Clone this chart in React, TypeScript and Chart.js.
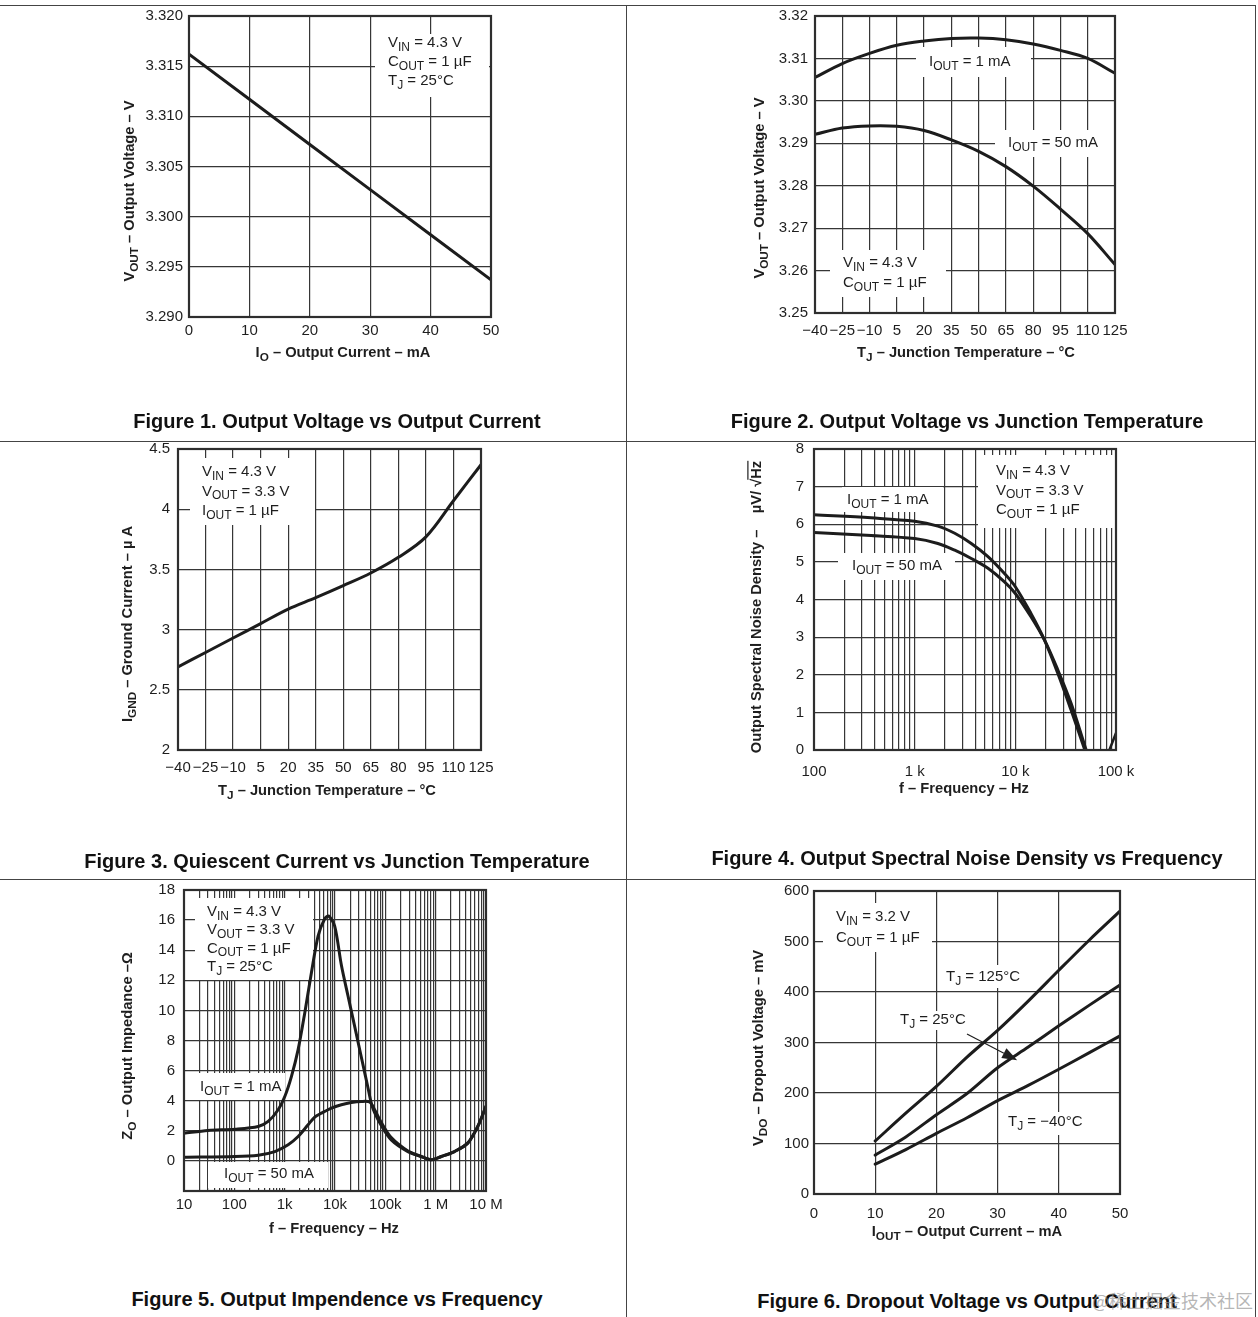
import React, { useEffect, useRef } from "react";
import { Chart, registerables } from "chart.js";

Chart.register(...registerables);

const FONT = '"Liberation Sans", Arial, Helvetica, sans-serif';
const INK = "#1e1e1e";
const GRID = "#363636";
const CURVE = "#1c1c1c";

// ---------------- Figure 1 ----------------
const FIG1_IOUT_MA = [0, 10, 20, 30, 40, 50];
const FIG1_VOUT_V = [3.3162, 3.3117, 3.3072, 3.3027, 3.2982, 3.2937];
const FIG1_X_TICKS = [0, 10, 20, 30, 40, 50];
const FIG1_X_LABELS = ["0", "10", "20", "30", "40", "50"];
const FIG1_Y_TICKS = [3.29, 3.295, 3.3, 3.305, 3.31, 3.315, 3.32];
const FIG1_Y_LABELS = ["3.290", "3.295", "3.300", "3.305", "3.310", "3.315", "3.320"];

// ---------------- Figure 2 ----------------
const TEMP_TICKS = [-40, -25, -10, 5, 20, 35, 50, 65, 80, 95, 110, 125];
const TEMP_LABELS = ["−40", "−25", "−10", "5", "20", "35", "50", "65", "80", "95", "110", "125"];
const FIG2_TJ_C = [-40, -25, -10, 5, 20, 35, 50, 65, 80, 95, 110, 125];
const FIG2_VOUT_1MA = [3.3055, 3.3088, 3.3112, 3.3131, 3.3141, 3.3147, 3.3148, 3.3144, 3.3134, 3.3119, 3.31, 3.3065];
const FIG2_VOUT_50MA = [3.2921, 3.2936, 3.2941, 3.294, 3.293, 3.2908, 3.2881, 3.2845, 3.2799, 3.2745, 3.2687, 3.2614];
const FIG2_Y_TICKS = [3.25, 3.26, 3.27, 3.28, 3.29, 3.3, 3.31, 3.32];
const FIG2_Y_LABELS = ["3.25", "3.26", "3.27", "3.28", "3.29", "3.30", "3.31", "3.32"];

// ---------------- Figure 3 ----------------
const FIG3_TJ_C = [-40, -25, -10, 5, 20, 35, 50, 65, 80, 95, 110, 125];
const FIG3_IGND_UA = [2.69, 2.81, 2.93, 3.05, 3.17, 3.265, 3.365, 3.47, 3.6, 3.77, 4.07, 4.37];
const FIG3_Y_TICKS = [2, 2.5, 3, 3.5, 4, 4.5];
const FIG3_Y_LABELS = ["2", "2.5", "3", "3.5", "4", "4.5"];

// ---------------- Figure 4 ----------------
const FIG4_FREQ_1MA = [100, 370, 1000, 1700, 2500, 3650, 5350, 7800, 10000, 14300, 19500, 26400, 35800, 49000];
const FIG4_NOISE_1MA = [6.25, 6.17, 6.08, 5.95, 5.76, 5.49, 5.14, 4.69, 4.34, 3.63, 2.92, 2.04, 1.06, 0];
const FIG4_FREQ_50MA = [100, 370, 1000, 1700, 2500, 3650, 5350, 7800, 10000, 14300, 19500, 26400, 35800, 50500];
const FIG4_NOISE_50MA = [5.78, 5.7, 5.62, 5.49, 5.31, 5.09, 4.83, 4.47, 4.16, 3.54, 2.92, 2.13, 1.24, 0];
const FIG4_TAIL_FREQ = [86000, 100000];
const FIG4_TAIL_NOISE = [0, 0.45];
const FIG4_X_DECADES = [100, 1000, 10000, 100000];
const FIG4_X_LABELS = ["100", "1 k", "10 k", "100 k"];
const FIG4_Y_TICKS = [0, 1, 2, 3, 4, 5, 6, 7, 8];
const FIG4_Y_LABELS = ["0", "1", "2", "3", "4", "5", "6", "7", "8"];

// ---------------- Figure 5 ----------------
const FIG5_FREQ_1MA = [10, 30, 103, 298, 470, 742, 1006, 1365, 1850, 2507, 3399, 4609, 6250, 7500, 9860, 13400, 18100, 24600, 33300, 45200, 52600, 61300, 83100, 131000, 281000, 516000, 814000, 1290000, 2360000, 4340000, 6860000, 10000000];
const FIG5_Z_1MA = [1.84, 2.02, 2.11, 2.29, 2.62, 3.4, 4.28, 5.62, 7.39, 9.83, 12.5, 14.94, 16.09, 16.27, 15.6, 13.0, 10.97, 8.94, 6.9, 4.86, 3.84, 3.2, 2.35, 1.4, 0.62, 0.29, 0.07, 0.29, 0.62, 1.18, 2.29, 3.62];
const FIG5_FREQ_50MA = [10, 103, 298, 637, 1172, 1850, 2918, 3955, 5370, 8470, 13400, 21100, 33300, 48800, 61300, 83100, 131000, 281000, 516000, 814000, 1290000, 2360000, 4340000, 6860000, 10000000];
const FIG5_Z_50MA = [0.24, 0.29, 0.38, 0.62, 1.07, 1.62, 2.4, 2.91, 3.17, 3.51, 3.73, 3.88, 3.95, 3.91, 3.4, 2.55, 1.55, 0.66, 0.3, 0.08, 0.29, 0.62, 1.18, 2.29, 3.62];
const FIG5_X_DECADES = [10, 100, 1000, 10000, 100000, 1000000, 10000000];
const FIG5_X_LABELS = ["10", "100", "1k", "10k", "100k", "1 M", "10 M"];
const FIG5_Y_TICKS = [-2, 0, 2, 4, 6, 8, 10, 12, 14, 16, 18];
const FIG5_Y_LABELS = ["", "0", "2", "4", "6", "8", "10", "12", "14", "16", "18"];

// ---------------- Figure 6 ----------------
const FIG6_IOUT_MA = [10, 15, 20, 25, 30, 35, 40, 45, 50];
const FIG6_VDO_125C = [105, 160, 213, 271, 324, 382, 443, 503, 560];
const FIG6_VDO_25C = [77, 113, 157, 199, 250, 291, 333, 374, 414];
const FIG6_VDO_M40C = [59, 88, 120, 151, 185, 215, 247, 280, 313];
const FIG6_X_TICKS = [0, 10, 20, 30, 40, 50];
const FIG6_X_LABELS = ["0", "10", "20", "30", "40", "50"];
const FIG6_Y_TICKS = [0, 100, 200, 300, 400, 500, 600];
const FIG6_Y_LABELS = ["0", "100", "200", "300", "400", "500", "600"];

// ---------------- helpers ----------------
function logGrid(decades: number[]): number[] {
  const out: number[] = [];
  for (let i = 0; i < decades.length - 1; i++) {
    for (let m = 1; m < 10; m++) out.push(decades[i] * m);
  }
  out.push(decades[decades.length - 1]);
  return out;
}

type AxisSpec = {
  type: "linear" | "logarithmic";
  min: number;
  max: number;
  ticks: number[];
  labelAt: number[];
  labels: string[];
  pad: number;
};
type Series = { x: number[]; y: number[]; width?: number };
type Note = { box: [number, number, number, number]; x: number; y: number; lines: string[]; lh?: number };
type PanelSpec = {
  plot: { L: number; T: number; R: number; B: number };
  x: AxisSpec;
  y: AxisSpec;
  series: Series[];
  tension: number;
  xTitle: { text: string; cx: number; cy: number };
  yTitle: { text: string; cx: number; cy: number };
  notes: Note[];
  arrows?: { from: [number, number]; to: [number, number] }[];
  caption: { text: string; cx: number; cy: number };
};

function parseRich(s: string) {
  const segs: { t: string; kind: "n" | "sub" | "over" }[] = [];
  const re = /([_~])\{([^}]*)\}/g;
  let last = 0;
  let m: RegExpExecArray | null;
  while ((m = re.exec(s)) !== null) {
    if (m.index > last) segs.push({ t: s.slice(last, m.index), kind: "n" });
    segs.push({ t: m[2], kind: m[1] === "_" ? "sub" : "over" });
    last = re.lastIndex;
  }
  if (last < s.length) segs.push({ t: s.slice(last), kind: "n" });
  return segs;
}

function drawRich(
  ctx: CanvasRenderingContext2D,
  s: string,
  x: number,
  y: number,
  size: number,
  bold: boolean,
  align: "left" | "center"
) {
  const segs = parseRich(s);
  const font = (k: string) => `${bold ? "bold " : ""}${k === "sub" ? size * 0.8 : size}px ${FONT}`;
  let w = 0;
  for (const g of segs) {
    ctx.font = font(g.kind);
    w += ctx.measureText(g.t).width;
  }
  let cx = align === "center" ? x - w / 2 : x;
  ctx.textAlign = "left";
  ctx.textBaseline = "middle";
  for (const g of segs) {
    ctx.font = font(g.kind);
    const gw = ctx.measureText(g.t).width;
    const dy = g.kind === "sub" ? size * 0.3 : 0;
    ctx.fillText(g.t, cx, y + dy);
    if (g.kind === "over") ctx.fillRect(cx - 1, y - size * 0.66, gw + 1, 1.2);
    cx += gw;
  }
}

const TEMP_AXIS = (pad: number): AxisSpec => ({
  type: "linear",
  min: -40,
  max: 125,
  ticks: TEMP_TICKS,
  labelAt: TEMP_TICKS,
  labels: TEMP_LABELS,
  pad,
});

const PANELS: PanelSpec[] = [
  {
    plot: { L: 189, T: 16, R: 491, B: 317 },
    x: { type: "linear", min: 0, max: 50, ticks: FIG1_X_TICKS, labelAt: FIG1_X_TICKS, labels: FIG1_X_LABELS, pad: 5 },
    y: { type: "linear", min: 3.29, max: 3.32, ticks: FIG1_Y_TICKS, labelAt: FIG1_Y_TICKS, labels: FIG1_Y_LABELS, pad: 6 },
    series: [{ x: FIG1_IOUT_MA, y: FIG1_VOUT_V }],
    tension: 0,
    xTitle: { text: "I_{O} – Output Current – mA", cx: 343, cy: 353 },
    yTitle: { text: "V_{OUT} – Output Voltage – V", cx: 130, cy: 191 },
    notes: [{ box: [375, 34, 489, 97], x: 388, y: 43, lines: ["V_{IN} = 4.3 V", "C_{OUT} = 1 µF", "T_{J} = 25°C"], lh: 19 }],
    caption: { text: "Figure 1. Output Voltage vs Output Current", cx: 337, cy: 421 },
  },
  {
    plot: { L: 815, T: 12, R: 1115, B: 313 },
    x: TEMP_AXIS(9),
    y: { type: "linear", min: 3.25, max: 3.32, ticks: FIG2_Y_TICKS, labelAt: FIG2_Y_TICKS, labels: FIG2_Y_LABELS, pad: 7 },
    series: [
      { x: FIG2_TJ_C, y: FIG2_VOUT_1MA },
      { x: FIG2_TJ_C, y: FIG2_VOUT_50MA },
    ],
    tension: 0.35,
    xTitle: { text: "T_{J} – Junction Temperature – °C", cx: 966, cy: 353 },
    yTitle: { text: "V_{OUT} – Output Voltage – V", cx: 760, cy: 188 },
    notes: [
      { box: [916, 47, 1031, 77], x: 929, y: 62, lines: ["I_{OUT} = 1 mA"] },
      { box: [995, 130, 1115, 157], x: 1008, y: 143, lines: ["I_{OUT} = 50 mA"] },
      { box: [830, 250, 946, 297], x: 843, y: 263, lines: ["V_{IN} = 4.3 V", "C_{OUT} = 1 µF"], lh: 20 },
    ],
    caption: { text: "Figure 2. Output Voltage vs Junction Temperature", cx: 967, cy: 421 },
  },
  {
    plot: { L: 178, T: 449, R: 481, B: 750 },
    x: TEMP_AXIS(9),
    y: { type: "linear", min: 2, max: 4.5, ticks: FIG3_Y_TICKS, labelAt: FIG3_Y_TICKS, labels: FIG3_Y_LABELS, pad: 8 },
    series: [{ x: FIG3_TJ_C, y: FIG3_IGND_UA }],
    tension: 0.35,
    xTitle: { text: "T_{J} – Junction Temperature – °C", cx: 327, cy: 791 },
    yTitle: { text: "I_{GND} – Ground Current – µ A", cx: 128, cy: 624 },
    notes: [
      { box: [190, 458, 315, 525], x: 202, y: 472, lines: ["V_{IN} = 4.3 V", "V_{OUT} = 3.3 V", "I_{OUT} = 1 µF"], lh: 19.5 },
    ],
    caption: { text: "Figure 3. Quiescent Current vs Junction Temperature", cx: 337, cy: 861 },
  },
  {
    plot: { L: 814, T: 449, R: 1116, B: 750 },
    x: { type: "logarithmic", min: 100, max: 100000, ticks: logGrid(FIG4_X_DECADES), labelAt: FIG4_X_DECADES, labels: FIG4_X_LABELS, pad: 13 },
    y: { type: "linear", min: 0, max: 8, ticks: FIG4_Y_TICKS, labelAt: FIG4_Y_TICKS, labels: FIG4_Y_LABELS, pad: 10 },
    series: [
      { x: FIG4_FREQ_1MA, y: FIG4_NOISE_1MA },
      { x: FIG4_FREQ_50MA, y: FIG4_NOISE_50MA },
      { x: FIG4_TAIL_FREQ, y: FIG4_TAIL_NOISE, width: 2.5 },
    ],
    tension: 0.35,
    xTitle: { text: "f – Frequency – Hz", cx: 964, cy: 789 },
    yTitle: { text: "Output Spectral Noise Density –    µV/ √~{Hz}", cx: 757, cy: 607 },
    notes: [
      { box: [978, 455, 1116, 528], x: 996, y: 471, lines: ["V_{IN} = 4.3 V", "V_{OUT} = 3.3 V", "C_{OUT} = 1 µF"], lh: 19.5 },
      { box: [842, 487, 943, 512], x: 847, y: 500, lines: ["I_{OUT} = 1 mA"] },
      { box: [838, 553, 955, 580], x: 852, y: 566, lines: ["I_{OUT} = 50 mA"] },
    ],
    caption: { text: "Figure 4. Output Spectral Noise Density vs Frequency", cx: 967, cy: 858 },
  },
  {
    plot: { L: 184, T: 890, R: 486, B: 1191 },
    x: { type: "logarithmic", min: 10, max: 10000000, ticks: logGrid(FIG5_X_DECADES), labelAt: FIG5_X_DECADES, labels: FIG5_X_LABELS, pad: 5 },
    y: { type: "linear", min: -2, max: 18, ticks: FIG5_Y_TICKS, labelAt: FIG5_Y_TICKS, labels: FIG5_Y_LABELS, pad: 9 },
    series: [
      { x: FIG5_FREQ_1MA, y: FIG5_Z_1MA },
      { x: FIG5_FREQ_50MA, y: FIG5_Z_50MA },
    ],
    tension: 0.3,
    xTitle: { text: "f – Frequency – Hz", cx: 334, cy: 1229 },
    yTitle: { text: "Z_{O} – Output Impedance –Ω", cx: 128, cy: 1046 },
    notes: [
      { box: [195, 898, 313, 980], x: 207, y: 912, lines: ["V_{IN} = 4.3 V", "V_{OUT} = 3.3 V", "C_{OUT} = 1 µF", "T_{J} = 25°C"], lh: 18.3 },
      { box: [185, 1073, 285, 1100], x: 200, y: 1087, lines: ["I_{OUT} = 1 mA"] },
      { box: [208, 1162, 328, 1188], x: 224, y: 1174, lines: ["I_{OUT} = 50 mA"] },
    ],
    caption: { text: "Figure 5. Output Impendence vs Frequency", cx: 337, cy: 1299 },
  },
  {
    plot: { L: 814, T: 891, R: 1120, B: 1194 },
    x: { type: "linear", min: 0, max: 50, ticks: FIG6_X_TICKS, labelAt: FIG6_X_TICKS, labels: FIG6_X_LABELS, pad: 11 },
    y: { type: "linear", min: 0, max: 600, ticks: FIG6_Y_TICKS, labelAt: FIG6_Y_TICKS, labels: FIG6_Y_LABELS, pad: 5 },
    series: [
      { x: FIG6_IOUT_MA, y: FIG6_VDO_125C },
      { x: FIG6_IOUT_MA, y: FIG6_VDO_25C },
      { x: FIG6_IOUT_MA, y: FIG6_VDO_M40C },
    ],
    tension: 0.3,
    xTitle: { text: "I_{OUT} – Output Current – mA", cx: 967, cy: 1232 },
    yTitle: { text: "V_{DO} – Dropout Voltage – mV", cx: 759, cy: 1048 },
    notes: [
      { box: [823, 903, 932, 952], x: 836, y: 917, lines: ["V_{IN} = 3.2 V", "C_{OUT} = 1 µF"], lh: 21 },
      { box: [940, 965, 1026, 988], x: 946, y: 977, lines: ["T_{J} = 125°C"] },
      { box: [892, 1011, 970, 1030], x: 900, y: 1020, lines: ["T_{J} = 25°C"] },
      { box: [1002, 1112, 1090, 1135], x: 1008, y: 1122, lines: ["T_{J} = −40°C"] },
    ],
    arrows: [{ from: [25, 317], to: [33.2, 265] }],
    caption: { text: "Figure 6. Dropout Voltage vs Output Current", cx: 967, cy: 1301 },
  },
];

const M = { l: 90, t: 30, r: 60, b: 60 };
const Y_AXIS_W = 60;
const X_AXIS_H = 40;

function Panel({ spec }: { spec: PanelSpec }) {
  const ref = useRef<HTMLCanvasElement>(null);
  const { L, T, R, B } = spec.plot;
  const left = L - M.l;
  const top = Math.max(0, T - M.t);
  const width = R - L + M.l + M.r;
  const height = B - top + M.b;

  useEffect(() => {
    const lab = (ax: AxisSpec) => (v: number) => {
      const i = ax.labelAt.findIndex((a) => Math.abs(a - v) <= 1e-9 * Math.max(1, Math.abs(a)));
      return i >= 0 ? ax.labels[i] : "";
    };
    const mkScale = (ax: AxisSpec, horizontal: boolean): any => {
      const lookup = lab(ax);
      return {
        type: ax.type,
        min: ax.min,
        max: ax.max,
        afterBuildTicks: (s: any) => {
          s.ticks = ax.ticks.map((v) => ({ value: v }));
        },
        afterFit: (s: any) => {
          if (horizontal) s.height = X_AXIS_H;
          else s.width = Y_AXIS_W;
        },
        ticks: {
          autoSkip: false,
          maxRotation: 0,
          minRotation: 0,
          padding: ax.pad,
          color: INK,
          font: { family: FONT, size: 15 },
          callback: (v: any) => lookup(Number(v)),
        },
        grid: { color: GRID, lineWidth: 1.2, drawTicks: false },
        border: { display: false },
      };
    };

    const decor = {
      id: "decor",
      beforeDatasetsDraw(chart: any) {
        const ctx: CanvasRenderingContext2D = chart.ctx;
        ctx.save();
        ctx.fillStyle = "#ffffff";
        for (const n of spec.notes) {
          const [x0, y0, x1, y1] = n.box;
          ctx.fillRect(x0 - left, y0 - top, x1 - x0, y1 - y0);
        }
        ctx.fillStyle = INK;
        for (const n of spec.notes) {
          n.lines.forEach((s, k) => drawRich(ctx, s, n.x - left, n.y - top + k * (n.lh ?? 19), 15, false, "left"));
        }
        ctx.restore();
      },
      afterDatasetsDraw(chart: any) {
        const ctx: CanvasRenderingContext2D = chart.ctx;
        const a = chart.chartArea;
        ctx.save();
        ctx.strokeStyle = "#2e2e2e";
        ctx.lineWidth = 2.2;
        ctx.strokeRect(a.left, a.top, a.right - a.left, a.bottom - a.top);
        for (const ar of spec.arrows ?? []) {
          const xs = chart.scales.x;
          const ys = chart.scales.y;
          const fx = xs.getPixelForValue(ar.from[0]);
          const fy = ys.getPixelForValue(ar.from[1]);
          const tx = xs.getPixelForValue(ar.to[0]);
          const ty = ys.getPixelForValue(ar.to[1]);
          const ang = Math.atan2(ty - fy, tx - fx);
          const hl = 15;
          const hw = 5.5;
          const bx = tx - hl * Math.cos(ang);
          const by = ty - hl * Math.sin(ang);
          ctx.strokeStyle = INK;
          ctx.lineWidth = 1.2;
          ctx.beginPath();
          ctx.moveTo(fx, fy);
          ctx.lineTo(bx, by);
          ctx.stroke();
          ctx.fillStyle = INK;
          ctx.beginPath();
          ctx.moveTo(tx, ty);
          ctx.lineTo(bx + hw * Math.sin(ang), by - hw * Math.cos(ang));
          ctx.lineTo(bx - hw * Math.sin(ang), by + hw * Math.cos(ang));
          ctx.closePath();
          ctx.fill();
        }
        ctx.restore();
      },
      afterDraw(chart: any) {
        const ctx: CanvasRenderingContext2D = chart.ctx;
        ctx.save();
        ctx.fillStyle = INK;
        drawRich(ctx, spec.xTitle.text, spec.xTitle.cx - left, spec.xTitle.cy - top, 14.7, true, "center");
        ctx.translate(spec.yTitle.cx - left, spec.yTitle.cy - top);
        ctx.rotate(-Math.PI / 2);
        drawRich(ctx, spec.yTitle.text, 0, 0, 14.7, true, "center");
        ctx.restore();
      },
    };

    const chart = new Chart(ref.current as HTMLCanvasElement, {
      type: "line",
      data: {
        datasets: spec.series.map((s) => ({
          data: s.x.map((xv, i) => ({ x: xv, y: s.y[i] })),
          borderColor: CURVE,
          borderWidth: s.width ?? 3,
          pointRadius: 0,
          pointHoverRadius: 0,
          fill: false,
          tension: spec.tension,
          borderCapStyle: "round" as const,
          borderJoinStyle: "round" as const,
        })),
      },
      options: {
        animation: false,
        responsive: false,
        maintainAspectRatio: false,
        events: [],
        layout: {
          padding: {
            left: L - left - Y_AXIS_W,
            top: T - top,
            right: M.r,
            bottom: M.b - X_AXIS_H,
          },
        },
        plugins: { legend: { display: false }, tooltip: { enabled: false }, title: { display: false } },
        scales: {
          x: mkScale(spec.x, true),
          y: mkScale(spec.y, false),
        },
      } as any,
      plugins: [decor as any],
    });
    return () => chart.destroy();
  }, [spec]);

  return (
    <canvas
      ref={ref}
      width={width}
      height={height}
      style={{ position: "absolute", left, top, width, height }}
    />
  );
}

const RULES = [
  { x: 0, y: 5, w: 1256, h: 1 },
  { x: 0, y: 441, w: 1256, h: 1 },
  { x: 0, y: 879, w: 1256, h: 1 },
  { x: 626, y: 5, w: 1, h: 1312 },
  { x: 1255, y: 5, w: 1, h: 1312 },
];

export default function App() {
  useEffect(() => {
    document.body.style.margin = "0";
  }, []);
  return (
    <div
      style={{
        position: "absolute",
        left: 0,
        top: 0,
        width: 1258,
        height: 1317,
        background: "#ffffff",
        overflow: "hidden",
        fontFamily: FONT,
      }}
    >
      {RULES.map((r, i) => (
        <div key={"r" + i} style={{ position: "absolute", left: r.x, top: r.y, width: r.w, height: r.h, background: "#444" }} />
      ))}
      {PANELS.map((p, i) => (
        <Panel key={"p" + i} spec={p} />
      ))}
      {PANELS.map((p, i) => (
        <div
          key={"c" + i}
          style={{
            position: "absolute",
            left: p.caption.cx - 313,
            top: p.caption.cy - 12,
            width: 626,
            height: 24,
            lineHeight: "24px",
            textAlign: "center",
            fontSize: 20,
            fontWeight: "bold",
            color: "#111",
            whiteSpace: "nowrap",
          }}
        >
          {p.caption.text}
        </div>
      ))}
      <div
        style={{
          position: "absolute",
          left: 1092,
          top: 1288,
          fontSize: 18,
          lineHeight: "24px",
          color: "rgba(150,150,150,0.7)",
          fontFamily: '"Noto Sans CJK SC", sans-serif',
          whiteSpace: "nowrap",
        }}
      >
        @稀土掘金技术社区
      </div>
    </div>
  );
}
